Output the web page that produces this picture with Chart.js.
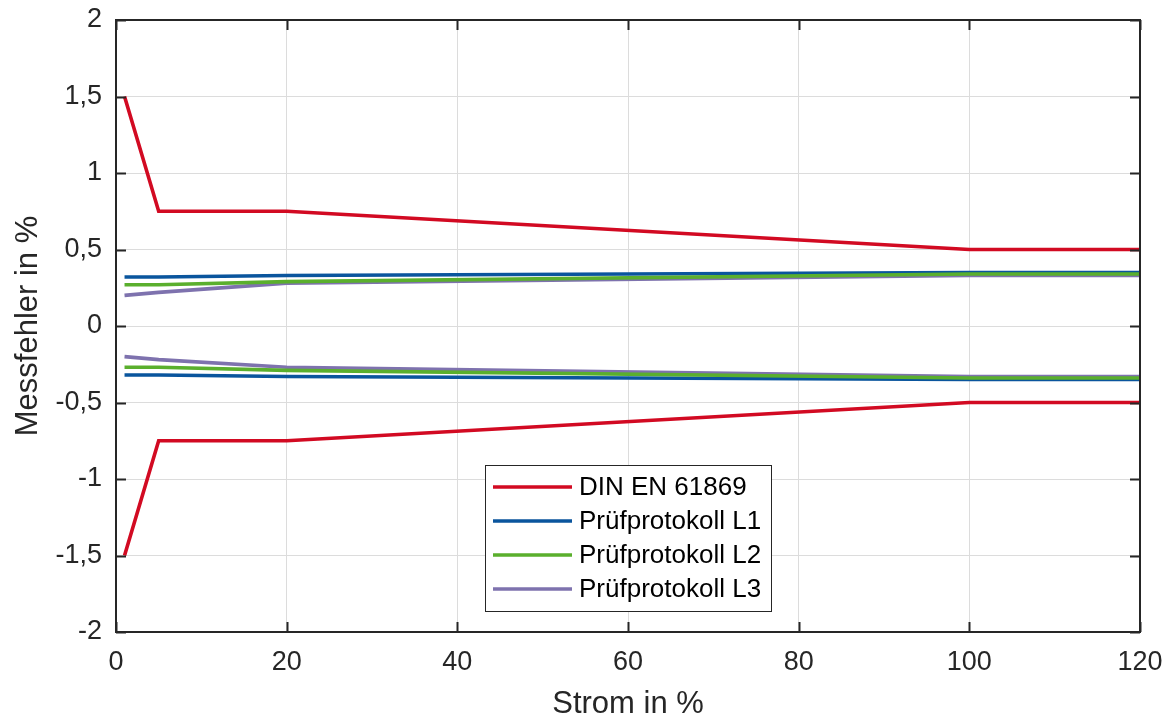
<!DOCTYPE html>
<html lang="de">
  <head>
    <meta charset="UTF-8" />
    <title>Messfehler</title>
    <script src="https://cdn.jsdelivr.net/npm/chart.js"></script>
    <style>
      body {
        margin: 0;
        background: #ffffff;
      }
      #wrap {
        width: 1172px;
        height: 720px;
      }
    </style>
  </head>
  <body>
    <div id="wrap"><canvas id="chart"></canvas></div>

    <script>
      // Stützstellen Strom in %
      const strom = [1, 5, 20, 100, 120];

      // Fehlergrenzen DIN EN 61869 (oben / unten)
      const dinOben = [1.5, 0.75, 0.75, 0.5, 0.5];
      const dinUnten = [-1.5, -0.75, -0.75, -0.5, -0.5];

      // Prüfprotokolle (Messfehler positiv / negativ)
      const l1Oben = [0.32, 0.32, 0.33, 0.35, 0.35];
      const l1Unten = [-0.32, -0.32, -0.33, -0.35, -0.35];
      const l2Oben = [0.27, 0.27, 0.29, 0.34, 0.34];
      const l2Unten = [-0.27, -0.27, -0.29, -0.34, -0.34];
      const l3Oben = [0.2, 0.22, 0.28, 0.33, 0.33];
      const l3Unten = [-0.2, -0.22, -0.27, -0.33, -0.33];

      const legendNamen = ["DIN EN 61869", "Prüfprotokoll L1", "Prüfprotokoll L2", "Prüfprotokoll L3"];

      const farben = {
        din: "#D20A22",
        l1: "#0A559D",
        l2: "#5AAF2D",
        l3: "#7E72AE",
      };

      const schrift = "'Liberation Sans', Arial, sans-serif";

      function punkte(werte) {
        return strom.map((x, i) => ({ x: x, y: werte[i] }));
      }

      function linie(label, werte, farbe) {
        return {
          label: label,
          data: punkte(werte),
          borderColor: farbe,
          backgroundColor: farbe,
          borderWidth: 3.6,
          pointRadius: 0,
          fill: false,
          tension: 0,
        };
      }

      // Rahmen, Ticks nach innen und Legende wie in MATLAB
      const rahmenPlugin = {
        id: "rahmen",
        afterDraw(chart) {
          const ctx = chart.ctx;
          const a = chart.chartArea;
          const xs = chart.scales.x;
          const ys = chart.scales.y;
          ctx.save();
          ctx.strokeStyle = "#262626";
          ctx.lineWidth = 2;
          ctx.strokeRect(a.left, a.top, a.right - a.left, a.bottom - a.top);
          ctx.beginPath();
          ys.ticks.forEach((t) => {
            const y = Math.round(ys.getPixelForValue(t.value)) + 0.5;
            ctx.moveTo(a.left, y);
            ctx.lineTo(a.left + 10, y);
            ctx.moveTo(a.right, y);
            ctx.lineTo(a.right - 10, y);
          });
          xs.ticks.forEach((t) => {
            const x = Math.round(xs.getPixelForValue(t.value)) + 0.5;
            ctx.moveTo(x, a.bottom);
            ctx.lineTo(x, a.bottom - 10);
            ctx.moveTo(x, a.top);
            ctx.lineTo(x, a.top + 10);
          });
          ctx.stroke();

          // Legende
          const lx = 485, ly = 465, lw = 286, lh = 146;
          ctx.fillStyle = "#ffffff";
          ctx.fillRect(lx, ly, lw, lh);
          ctx.strokeStyle = "#262626";
          ctx.lineWidth = 1;
          ctx.strokeRect(lx + 0.5, ly + 0.5, lw, lh);
          const legendFarben = [farben.din, farben.l1, farben.l2, farben.l3];
          ctx.font = "26px " + schrift;
          ctx.textBaseline = "middle";
          ctx.textAlign = "left";
          legendNamen.forEach((name, i) => {
            const y = ly + 22 + i * 34;
            ctx.strokeStyle = legendFarben[i];
            ctx.lineWidth = 3.6;
            ctx.beginPath();
            ctx.moveTo(lx + 8, y);
            ctx.lineTo(lx + 87, y);
            ctx.stroke();
            ctx.fillStyle = "#000000";
            ctx.fillText(name, lx + 94, y + 1);
          });
          ctx.restore();
        },
      };

      const komma = (v) => String(v).replace(".", ",");

      new Chart(document.getElementById("chart"), {
        type: "line",
        data: {
          datasets: [
            linie(legendNamen[0], dinOben, farben.din),
            linie(legendNamen[0], dinUnten, farben.din),
            linie(legendNamen[2], l2Oben, farben.l2),
            linie(legendNamen[2], l2Unten, farben.l2),
            linie(legendNamen[1], l1Oben, farben.l1),
            linie(legendNamen[1], l1Unten, farben.l1),
            linie(legendNamen[3], l3Oben, farben.l3),
            linie(legendNamen[3], l3Unten, farben.l3),
          ],
        },
        options: {
          responsive: true,
          maintainAspectRatio: false,
          animation: false,
          layout: { padding: { top: 20, right: 32, left: 0, bottom: 0 } },
          plugins: {
            legend: { display: false },
            tooltip: { enabled: false },
          },
          scales: {
            x: {
              type: "linear",
              min: 0,
              max: 120,
              ticks: {
                stepSize: 20,
                color: "#262626",
                padding: 14,
                font: { family: schrift, size: 27 },
              },
              grid: { color: "#dcdcdc", lineWidth: 1, drawTicks: false },
              border: { display: false },
              title: {
                display: true,
                text: "Strom in %",
                color: "#262626",
                padding: { top: 4, bottom: 0 },
                font: { family: schrift, size: 31, lineHeight: 1.0 },
              },
              afterFit(scale) {
                scale.height = 88;
                scale.paddingLeft = 0;
                scale.paddingRight = 0;
              },
            },
            y: {
              min: -2,
              max: 2,
              ticks: {
                stepSize: 0.5,
                color: "#262626",
                padding: 14,
                font: { family: schrift, size: 27 },
                callback: (v) => komma(v),
              },
              grid: { color: "#dcdcdc", lineWidth: 1, drawTicks: false },
              border: { display: false },
              title: {
                display: true,
                text: "Messfehler in %",
                color: "#262626",
                padding: { top: 10, bottom: 4 },
                font: { family: schrift, size: 31, lineHeight: 1.2 },
              },
              afterFit(scale) {
                scale.width = 116;
                scale.paddingTop = 0;
                scale.paddingBottom = 0;
              },
            },
          },
        },
        plugins: [rahmenPlugin],
      });
    </script>
  </body>
</html>
